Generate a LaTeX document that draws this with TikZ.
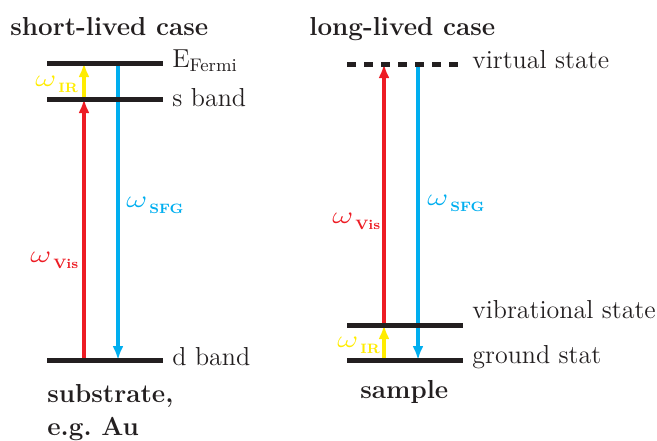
\documentclass[tikz,border=0pt]{standalone}
\usepackage{amsmath}
\usepackage{graphicx}
\usepackage{tikz}
\usetikzlibrary{positioning,arrows.meta}
\definecolor{visred}{RGB}{237,28,36}
\definecolor{sfgblue}{RGB}{0,174,239}
\definecolor{iryellow}{RGB}{255,236,0}
\definecolor{levelblack}{RGB}{35,31,32}
\newcommand{\freq}[1]{\scalebox{1.35}[1]{\fontsize{12}{14}\selectfont$\omega$}\kern1pt\raisebox{-3.3pt}{\fontsize{6.8}{8}\selectfont\bfseries #1}}
\frenchspacing

\begin{document}
\begin{tikzpicture}[x=0.5pt, y=-0.5pt,
  levelline/.style={line width=2.5pt, levelblack},
  dashlevel/.style={levelline, dash pattern=on 4.5pt off 4pt},
  transition/.style={line width=2pt, -{Latex[length=7pt, width=5.5pt]}},
  levellabel/.style={anchor=base west, inner sep=0pt, text=levelblack, font=\fontsize{13}{15}\selectfont},
  casetitle/.style={anchor=base west, inner sep=0pt, text=levelblack, font=\fontsize{13}{16.5}\selectfont\bfseries},
  freqlabel/.style={anchor=base west, inner sep=0pt}
]
\useasboundingbox (0,0) rectangle (657,440);
% Left: short-lived case
\node[casetitle] (titleL) at (10,35) {short-lived case};
\coordinate (fermiA) at (47,63);  \coordinate (fermiB) at (163,63);
\coordinate (sbandA) at (47,99);  \coordinate (sbandB) at (163,99);
\coordinate (dbandA) at (47,360); \coordinate (dbandB) at (163,360);
\coordinate (upL) at (84,0);
\coordinate (downL) at (118,0);
\draw[transition, visred] (dbandA -| upL) -- (sbandA -| upL);
\draw[transition, iryellow] (sbandA -| upL) -- (fermiA -| upL);
\draw[transition, sfgblue] (fermiA -| downL) -- (dbandA -| downL);
\draw[levelline] (fermiA) -- (fermiB);
\draw[levelline] (sbandA) -- (sbandB);
\draw[levelline] (dbandA) -- (dbandB);
\node[levellabel] (fermiLab) at (172,67) {E$_{\text{Fermi}}$};
\node[levellabel] (sbandLab) at (172,106) {s band};
\node[levellabel] (dbandLab) at (172,365) {d band};
\node[freqlabel, text=iryellow] (irL) at (35,86) {\freq{IR}};
\node[freqlabel, text=visred] (visL) at (30,262) {\freq{Vis}};
\node[freqlabel, text=sfgblue] (sfgL) at (126,207) {\freq{SFG}};
\node[casetitle, anchor=north west, align=left] (substrate) at (47,384) {substrate,\\e.g. Au};
% Right: long-lived case
\node[casetitle] (titleR) at (309,35) {long-lived case};
\coordinate (virtA) at (347,64);  \coordinate (virtB) at (462,64);
\coordinate (vibA) at (347,325);  \coordinate (vibB) at (463,325);
\coordinate (gndA) at (347,360);  \coordinate (gndB) at (463,360);
\coordinate (upR) at (384,0);
\coordinate (downR) at (418,0);
\draw[transition, visred] (vibA -| upR) -- (virtA -| upR);
\draw[transition, iryellow] (gndA -| upR) -- (vibA -| upR);
\draw[transition, sfgblue] (virtA -| downR) -- (gndA -| downR);
\draw[dashlevel] (virtA) -- (virtB);
\draw[levelline] (vibA) -- (vibB);
\draw[levelline] (gndA) -- (gndB);
\node[levellabel] (virtLab) at (472,68) {virtual state};
\node[levellabel] (vibLab) at (472,318) {vibrational state};
\node[levellabel] (gndLab) at (472,363) {ground stat};
\node[freqlabel, text=visred] (visR) at (332,223) {\freq{Vis}};
\node[freqlabel, text=sfgblue] (sfgR) at (427,205) {\freq{SFG}};
\node[freqlabel, text=iryellow] (irR) at (337,347) {\freq{IR}};
\node[casetitle] (sample) at (360,398) {sample};
\end{tikzpicture}
\end{document}
